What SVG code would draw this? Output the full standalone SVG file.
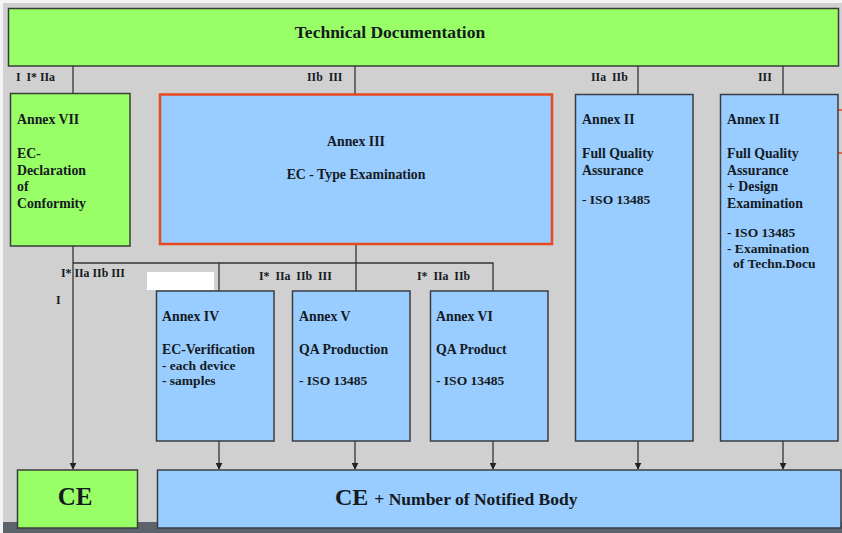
<svg xmlns="http://www.w3.org/2000/svg" width="842" height="533" viewBox="0 0 842 533">
<defs>
<style>
.g{fill:#99ff66;stroke:#3a3d3a;stroke-width:1.5}
.b{fill:#99ccff;stroke:#3a3d44;stroke-width:1.5}
.t{font-family:"Liberation Serif","Times New Roman",serif;font-weight:bold;fill:#141a22;white-space:pre}
.s{font-size:13.8px}
.l{font-size:11.8px}
.c{stroke:#333;stroke-width:1.3;fill:none}
</style>
<marker id="ar" viewBox="0 0 10 10" refX="9" refY="5" markerWidth="7" markerHeight="7" markerUnits="userSpaceOnUse" orient="auto">
<path d="M0,0 L10,5 L0,10 z" fill="#222"/>
</marker>
</defs>
<rect x="0" y="0" width="842" height="533" fill="#f4f4f4"/>
<rect x="3" y="3" width="839" height="530" fill="#d0d0d0"/>
<rect x="3" y="522" width="839" height="11" fill="#5d636b"/>

<g id="connectors">
<path class="c" d="M73,66 V93"/>
<path class="c" d="M355,66 V94"/>
<path class="c" d="M638,66 V94"/>
<path class="c" d="M783,66 V94"/>
<path class="c" d="M73,246 V469" marker-end="url(#ar)"/>
<path class="c" d="M73,263 H493 V291"/>
<path class="c" d="M219,263 V291"/>
<path class="c" d="M356,245 V291"/>
<path class="c" d="M219,441 V469" marker-end="url(#ar)"/>
<path class="c" d="M355,441 V469" marker-end="url(#ar)"/>
<path class="c" d="M493,441 V469" marker-end="url(#ar)"/>
<path class="c" d="M638,441 V469" marker-end="url(#ar)"/>
<path class="c" d="M783,441 V469" marker-end="url(#ar)"/>
<path d="M838,110 H842 M838,153 H842" stroke="#e8481e" stroke-width="1.5"/>
</g>

<g id="labels">
<text class="t l" x="16" y="81" xml:space="preserve">I  I* IIa</text>
<text class="t l" x="307" y="81" xml:space="preserve">IIb  III</text>
<text class="t l" x="591" y="81" xml:space="preserve">IIa  IIb</text>
<text class="t l" x="758" y="81">III</text>
<text class="t l" x="61" y="277">I* IIa IIb III</text>
<text class="t l" x="56" y="304">I</text>
<text class="t l" x="259" y="280" xml:space="preserve">I*  IIa  IIb  III</text>
<text class="t l" x="417" y="280" xml:space="preserve">I*  IIa  IIb</text>
<rect x="147" y="272" width="67" height="18" fill="#ffffff"/>
</g>

<g id="tech-doc">
<rect class="g" x="8.5" y="8.5" width="830" height="57.5"/>
<text class="t" x="390" y="38" text-anchor="middle" font-size="17.5">Technical Documentation</text>
</g>

<g id="annex-vii">
<rect class="g" x="10.5" y="93.5" width="119.5" height="152.5"/>
<text class="t s" x="17" y="124">Annex VII</text>
<text class="t s" x="17" y="158">EC-</text>
<text class="t s" x="17" y="174.5">Declaration</text>
<text class="t s" x="17" y="191">of</text>
<text class="t s" x="17" y="207.5">Conformity</text>
</g>

<g id="annex-iii">
<rect x="160" y="94.5" width="392" height="149.5" fill="#99ccff" stroke="#e8481e" stroke-width="2.5"/>
<text class="t s" x="356" y="146" text-anchor="middle">Annex III</text>
<text class="t s" x="356" y="179" text-anchor="middle">EC - Type Examination</text>
</g>

<g id="annex-ii-a">
<rect class="b" x="575.5" y="94.5" width="117.5" height="346.5"/>
<text class="t s" x="582" y="124">Annex II</text>
<text class="t s" x="582" y="158">Full Quality</text>
<text class="t s" x="582" y="174.5">Assurance</text>
<text class="t" x="582" y="204" font-size="13.5">- ISO 13485</text>
</g>

<g id="annex-ii-b">
<rect class="b" x="720.5" y="94.5" width="117.5" height="346.5"/>
<text class="t s" x="727" y="124">Annex II</text>
<text class="t s" x="727" y="158">Full Quality</text>
<text class="t s" x="727" y="174.5">Assurance</text>
<text class="t s" x="727" y="191">+ Design</text>
<text class="t s" x="727" y="207.5">Examination</text>
<text class="t" x="727" y="237" font-size="13.5">- ISO 13485</text>
<text class="t" x="727" y="252.5" font-size="13.5">- Examination</text>
<text class="t" x="733" y="268" font-size="13.5">of Techn.Docu</text>
</g>

<g id="annex-iv">
<rect class="b" x="156.5" y="291" width="117.5" height="150"/>
<text class="t s" x="162" y="321">Annex IV</text>
<text class="t s" x="162" y="354">EC-Verification</text>
<text class="t" x="162" y="369.5" font-size="13.5">- each device</text>
<text class="t" x="162" y="385" font-size="13.5">- samples</text>
</g>

<g id="annex-v">
<rect class="b" x="292.5" y="291" width="117.5" height="150"/>
<text class="t s" x="299" y="321">Annex V</text>
<text class="t s" x="299" y="354">QA Production</text>
<text class="t" x="299" y="385" font-size="13.5">- ISO 13485</text>
</g>

<g id="annex-vi">
<rect class="b" x="430.5" y="291" width="117.5" height="150"/>
<text class="t s" x="436" y="321">Annex VI</text>
<text class="t s" x="436" y="354">QA Product</text>
<text class="t" x="436" y="385" font-size="13.5">- ISO 13485</text>
</g>

<g id="ce">
<rect class="g" x="17.5" y="470" width="120" height="58"/>
<text class="t" x="75" y="505" text-anchor="middle" font-size="25">CE</text>
</g>

<g id="ce-nb">
<rect class="b" x="157.5" y="470" width="683.5" height="58"/>
<text class="t" x="335" y="505" font-size="24">CE <tspan font-size="17.5">+ Number of Notified Body</tspan></text>
</g>
</svg>
